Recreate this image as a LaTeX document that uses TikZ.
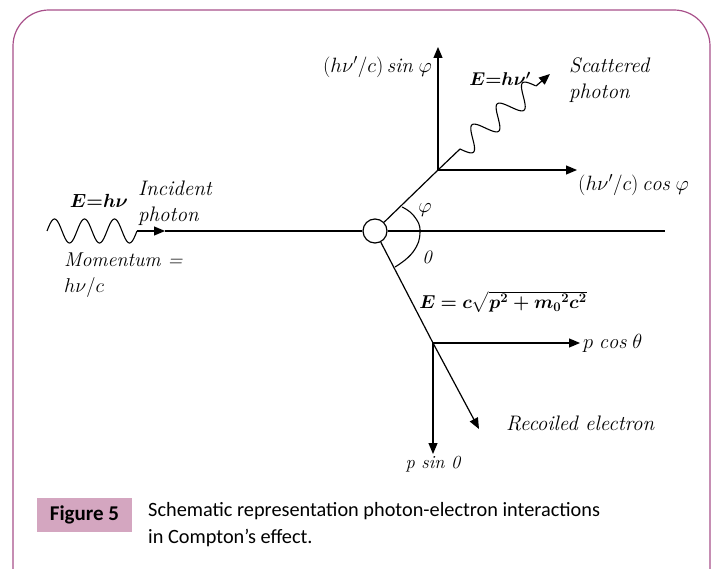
\RequirePackage{fix-cm}
\documentclass[tikz,border=0pt]{standalone}
\usepackage{amsmath}
\usepackage{bm}
\usepackage{fontspec}
\newfontfamily\capfont{Carlito}
\usetikzlibrary{arrows.meta}
\definecolor{framecol}{HTML}{A8508A}
\definecolor{figbox}{HTML}{D4A6C0}
\tikzset{
  ln/.style={line width=1.2pt, black},
  arr/.style={ln, -{Triangle[length=11pt,width=9pt]}},
  lbl/.style={font=\fontsize{21}{26}\selectfont\itshape, inner sep=0pt},
  mlbl/.style={font=\fontsize{20.7}{25}\selectfont, inner sep=0pt},
}
\begin{document}
\begin{tikzpicture}[x=1pt,y=-1pt]
\useasboundingbox (0,0) rectangle (717,569);
% frame
\draw[framecol, line width=1.2pt, rounded corners=36pt] (13,575) -- (13,10) -- (710,10) -- (710,575);
% incident photon
\draw[ln, line width=1.1pt] plot[domain=47:137, samples=120, smooth] (\x, {231-12*sin((\x-47)*12)});
\coordinate (i0) at (137,231);
\coordinate (i1) at (165,231);
\node[circle, draw, line width=1.2pt, fill=white, minimum size=24pt, inner sep=0pt] (c) at (375,231) {};
\coordinate (hend) at (665,231);
\draw[arr] (i0) -- (i1);
\draw[ln] (i1) -- (c.west);
\draw[ln] (c.east) -- (hend);
% scattered photon
\coordinate (s) at (438,170);
\coordinate (w1) at (460,149);
\coordinate (w2) at (536,86);
\coordinate (wt) at (550,74);
\draw[ln] (c) -- (s) -- (w1);
\draw[ln, line width=1.1pt] plot[domain=0:1, samples=150, smooth] ({460+76*\x+11*0.638*sin(1080*\x)}, {149-63*\x+11*0.77*sin(1080*\x)});
\draw[arr] (w2) -- (wt);
\coordinate (sy) at (438,47);
\coordinate (sx) at (577,170);
\draw[arr] (s) -- (sy);
\draw[arr] (s) -- (sx);
% recoil electron
\coordinate (r) at (433,343);
\coordinate (rt) at (479,429);
\coordinate (rx) at (580,343);
\coordinate (ry) at (433,454);
\draw[ln] (c) -- (r);
\draw[arr] (r) -- (rt);
\draw[arr] (r) -- (rx);
\draw[arr] (r) -- (ry);
% angle arc
\draw[ln, line width=1.1pt] plot[smooth, tension=0.8] coordinates {(402,207) (414,216) (420,232) (413,252) (395,267)};
% labels
\node[mlbl, anchor=east] (l1) at (432,67) {$(h\nu'/c)\,\mathit{sin}\;\varphi$};
\node[lbl, anchor=west, align=left] (l2) at (569,80) {Scattered\\photon};
\node[mlbl, font=\fontsize{18.5}{22}\selectfont] (l3) at (500,79) {$\bm{E{=}h\nu'}$};
\node[mlbl, anchor=west] (l4) at (578,185) {$(h\nu'/c)\,\mathit{cos}\;\varphi$};
\node[mlbl] (l5) at (425,210) {$\varphi$};
\node[lbl, font=\fontsize{19}{22}\selectfont\itshape] (l6) at (427,257) {0};
\node[mlbl, font=\fontsize{19}{22}\selectfont] (l7) at (99,201) {$\bm{E{=}h\nu}$};
\node[lbl, anchor=west, align=left] (l8) at (138,203) {Incident\\photon};
\node[lbl, anchor=west, align=left, font=\fontsize{20}{26}\selectfont\itshape] (l9) at (64,275) {Momentum =\\\textup{$h\nu/c$}};
\node[mlbl, font=\fontsize{18.7}{22}\selectfont] (l10) at (503,302) {$\bm{E = c\sqrt{p^2 + {m_0}^2c^2}}$};
\node[mlbl, anchor=west, font=\fontsize{20.5}{22}\selectfont] (l11) at (583,343) {$p\;\mathit{cos}\;\theta$};
\node[lbl, anchor=west] (l12) at (506,423) {Recoiled electron};
\node[lbl, font=\fontsize{18.5}{22}\selectfont\itshape] (l13) at (433,464) {p sin 0};
% caption
\node[fill=figbox, minimum width=95pt, minimum height=34pt, inner sep=0pt, font=\capfont\bfseries\fontsize{21}{24}\selectfont, text=black] (fig) at (84.5,515) {Figure 5};
\node[anchor=north west, align=left, inner sep=0pt, font=\capfont\fontsize{20.3}{27}\selectfont, text=black] (cap) at (148,502) {Schematic representation photon-electron interactions\\in Compton’s effect.};
\end{tikzpicture}
\end{document}
